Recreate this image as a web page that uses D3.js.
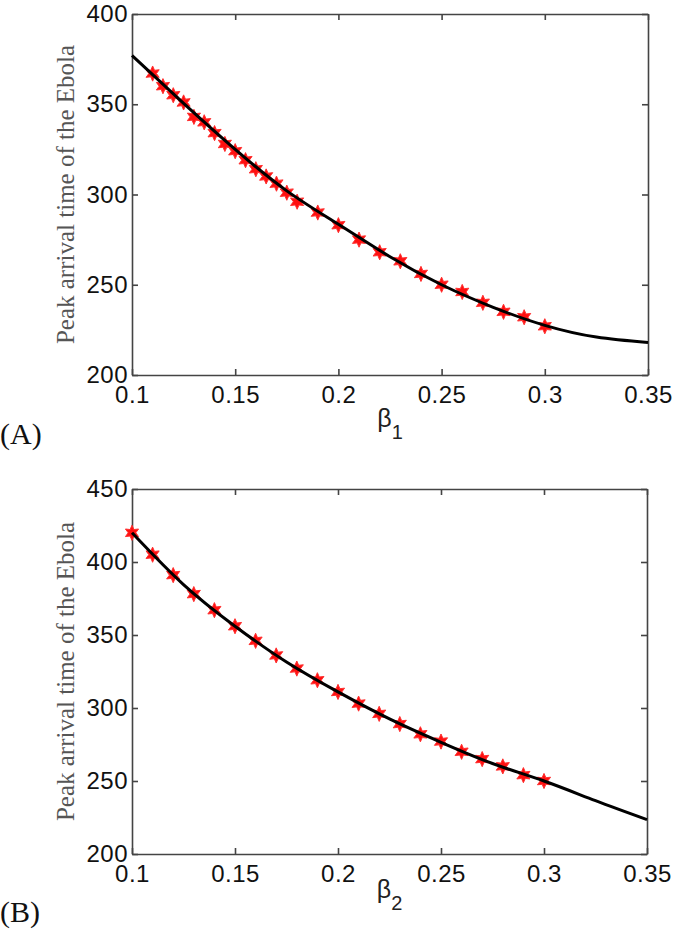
<!DOCTYPE html>
<html>
<head>
<meta charset="utf-8">
<script src="https://cdn.jsdelivr.net/npm/d3@7"></script>
<style>
  body { margin: 0; background: #fff; }
  svg { display: block; }
</style>
</head>
<body>
<div id="chart"></div>
<script>
// panel A : peak arrival time vs beta1
const betaA = [0.11, 0.115, 0.12, 0.125, 0.13, 0.135, 0.14, 0.145, 0.15, 0.155, 0.16, 0.165, 0.17, 0.175, 0.18,
    0.19, 0.20, 0.21, 0.22, 0.23, 0.24, 0.25, 0.26, 0.27, 0.28, 0.29, 0.30]
const peakA = [367, 360, 355, 351, 343, 340, 334, 328, 324, 319, 314, 310, 306, 301, 296,
    290, 283, 275, 268, 263, 256, 250, 246, 240, 235, 232, 227]
const fitXA = [0.10, 0.125, 0.15, 0.175, 0.20, 0.225, 0.25, 0.275, 0.30, 0.325, 0.35]
const fitYA = [377, 350.5, 325, 302, 283.5, 265.5, 250, 237.5, 227.5, 221, 218]

// panel B : peak arrival time vs beta2
const betaB = [0.10, 0.11, 0.12, 0.13, 0.14, 0.15, 0.16, 0.17, 0.18, 0.19, 0.20,
    0.21, 0.22, 0.23, 0.24, 0.25, 0.26, 0.27, 0.28, 0.29, 0.30]
const peakB = [420, 405, 391, 378, 367, 356, 346, 336, 327, 319, 311,
    303, 296, 289, 282, 277, 270, 265, 260, 254, 250]
const fitXB = [0.10, 0.125, 0.15, 0.175, 0.20, 0.225, 0.25, 0.275, 0.30, 0.325, 0.35]
const fitYB = [420, 384.5, 356, 331.5, 311, 292.5, 276.5, 262, 250, 236.5, 223.5]

const xTicks = [0.1, 0.15, 0.2, 0.25, 0.3, 0.35]
const yTicksA = [200, 250, 300, 350, 400]
const yTicksB = [200, 250, 300, 350, 400, 450]

const W = 675, H = 931
const SANS = "'Liberation Sans', Arial, Helvetica, sans-serif"
const SERIF = "'Liberation Serif', 'Times New Roman', Times, serif"

const svg = d3.select("#chart").append("svg")
    .attr("width", W)
    .attr("height", H)

// six pointed star marker, like matlab's hexagram
const hexagram = {
    draw(context, size) {
        const r = Math.sqrt(size) / 2
        const ri = r * 0.5
        for (let i = 0; i < 12; i++) {
            const a = -Math.PI / 2 + i * Math.PI / 6
            const rr = i % 2 === 0 ? r : ri
            const px = rr * Math.cos(a), py = rr * Math.sin(a)
            if (i === 0) context.moveTo(px, py)
            else context.lineTo(px, py)
        }
        context.closePath()
    }
}

function drawPanel(cfg) {
    const g = svg.append("g")

    var x = d3.scaleLinear().domain([0.1, 0.35]).range([cfg.left, cfg.right])
    var y = d3.scaleLinear().domain(cfg.yDomain).range([cfg.bottom, cfg.top])

    const fmt = d => String(d)

    // bottom axis with labels
    g.append("g")
        .attr("transform", "translate(0," + cfg.bottom + ")")
        .call(d3.axisBottom(x).tickValues(xTicks).tickFormat(fmt)
            .tickSizeInner(-6).tickSizeOuter(0).tickPadding(11))
    // top axis, ticks only
    g.append("g")
        .attr("transform", "translate(0," + cfg.top + ")")
        .call(d3.axisTop(x).tickValues(xTicks).tickFormat("")
            .tickSizeInner(-6).tickSizeOuter(0))
    // left axis with labels
    g.append("g")
        .attr("transform", "translate(" + cfg.left + ",0)")
        .call(d3.axisLeft(y).tickValues(cfg.yTicks).tickFormat(fmt)
            .tickSizeInner(-6).tickSizeOuter(0).tickPadding(4))
    // right axis, ticks only
    g.append("g")
        .attr("transform", "translate(" + cfg.right + ",0)")
        .call(d3.axisRight(y).tickValues(cfg.yTicks).tickFormat("")
            .tickSizeInner(-6).tickSizeOuter(0))

    g.selectAll(".domain").attr("stroke", "#444").attr("stroke-width", 1.6)
    g.selectAll(".tick line").attr("stroke", "#444").attr("stroke-width", 1.6)
    g.selectAll(".tick text")
        .attr("fill", "#111")
        .style("font-family", SANS)
        .style("font-size", "24px")
        .style("letter-spacing", "0.5px")

    // fitted curve
    const line = d3.line()
        .x(d => x(d[0]))
        .y(d => y(d[1]))
        .curve(d3.curveNatural)

    // stars first, the black line runs on top
    const stars = d3.zip(cfg.bx, cfg.by)
    g.append("g")
        .selectAll("path")
        .data(stars)
        .enter().append("path")
        .attr("transform", d => "translate(" + x(d[0]) + "," + y(d[1]) + ")")
        .attr("d", d3.symbol().type(hexagram).size(230))
        .attr("fill", "#ff1010")
        .attr("stroke", "#ff3030")
        .attr("stroke-width", 1)

    g.append("path")
        .datum(d3.zip(cfg.fx, cfg.fy))
        .attr("fill", "none")
        .attr("stroke", "#000")
        .attr("stroke-width", 3)
        .attr("d", line)

    // y label
    const cy = (cfg.top + cfg.bottom) / 2
    g.append("text")
        .attr("transform", "translate(" + 74 + "," + cy + ") rotate(-90)")
        .attr("text-anchor", "middle")
        .attr("fill", "#555")
        .style("font-family", SERIF)
        .style("font-size", "25px")
        .text("Peak arrival time of the Ebola")

    // x label: beta with subscript
    const xl = g.append("text")
        .attr("x", (cfg.left + cfg.right) / 2)
        .attr("y", cfg.xLabelY)
        .attr("text-anchor", "middle")
        .attr("fill", "#222")
        .style("font-family", SANS)
        .style("font-size", "25px")
    xl.append("tspan").text("β")
    xl.append("tspan").attr("dy", 12).style("font-size", "20px").text(cfg.sub)

    // panel tag
    g.append("text")
        .attr("x", 0)
        .attr("y", cfg.tagY)
        .attr("fill", "#111")
        .style("font-family", SERIF)
        .style("font-size", "30px")
        .text(cfg.tag)
}

drawPanel({
    left: 132, right: 648, top: 14, bottom: 375,
    yDomain: [200, 400], yTicks: yTicksA,
    bx: betaA, by: peakA, fx: fitXA, fy: fitYA,
    sub: "1", xLabelY: 427, tag: "(A)", tagY: 444
})

drawPanel({
    left: 132, right: 647, top: 489, bottom: 854,
    yDomain: [200, 450], yTicks: yTicksB,
    bx: betaB, by: peakB, fx: fitXB, fy: fitYB,
    sub: "2", xLabelY: 898, tag: "(B)", tagY: 922
})
</script>
</body>
</html>
